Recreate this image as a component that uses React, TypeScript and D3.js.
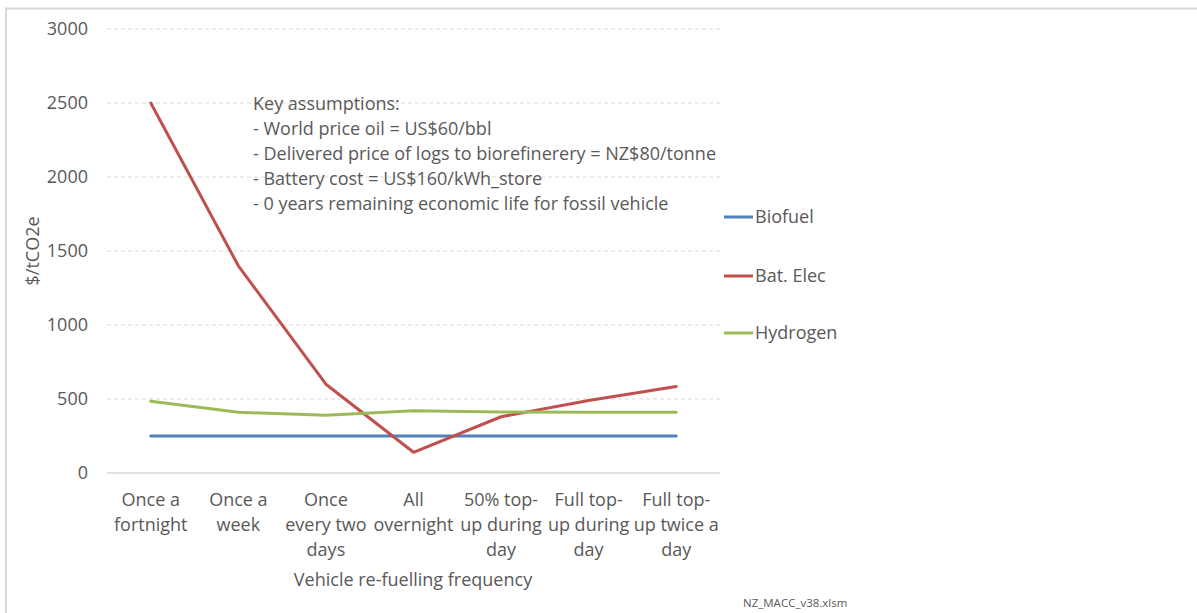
import React from "react";
import * as d3 from "d3";

const categories: string[][] = [
  ["Once a", "fortnight"],
  ["Once a", "week"],
  ["Once", "every two", "days"],
  ["All", "overnight"],
  ["50% top-", "up during", "day"],
  ["Full top-", "up during", "day"],
  ["Full top-", "up twice a", "day"],
];
const biofuel = [250, 250, 250, 250, 250, 250, 250];
const batElec = [2500, 1400, 600, 140, 380, 490, 585];
const hydrogen = [485, 410, 390, 420, 412, 410, 410];
const yTicks = [0, 500, 1000, 1500, 2000, 2500, 3000];
const seriesNames = ["Biofuel", "Bat. Elec", "Hydrogen"];
const seriesColors = ["#4F81BD", "#C0504D", "#9BBB59"];
const notes = [
  "Key assumptions:",
  "- World price oil = US$60/bbl",
  "- Delivered price of logs to biorefinerery = NZ$80/tonne",
  "- Battery cost = US$160/kWh_store",
  "- 0 years remaining economic life for fossil vehicle",
];

const W = 1197;
const H = 613;
const FONT = "'Open Sans', Lato, sans-serif";
const TEXT = "#595959";
const FS = 18;

export default function App() {
  const x = d3
    .scaleBand<number>()
    .domain(d3.range(categories.length))
    .range([107, 720]);
  const y = d3.scaleLinear().domain([0, 3000]).range([473, 29]);
  const cx = (i: number) => (x(i) as number) + x.bandwidth() / 2;
  const line = d3
    .line<number>()
    .x((_, i) => cx(i))
    .y((d) => y(d));
  const series = [biofuel, batElec, hydrogen];

  return (
    <svg
      width={W}
      height={H}
      style={{ position: "absolute", left: 0, top: 0, background: "#fff" }}
      fontFamily={FONT}
    >
      {/* outer border */}
      <line x1={6} x2={6} y1={8} y2={H} stroke="#D9D9D9" strokeWidth={2} />
      <line x1={5} x2={W} y1={8.5} y2={8.5} stroke="#D9D9D9" strokeWidth={2} />

      {/* gridlines */}
      {yTicks.map((t) =>
        t === 0 ? (
          <line key={t} x1={107} x2={720} y1={y(t)} y2={y(t)} stroke="#D9D9D9" strokeWidth={1.3} />
        ) : (
          <line
            key={t}
            x1={107}
            x2={720}
            y1={y(t)}
            y2={y(t)}
            stroke="#D9D9D9"
            strokeWidth={1}
            strokeDasharray="4,3"
          />
        )
      )}
      {yTicks.map((t) => (
        <text
          key={"l" + t}
          x={88}
          y={y(t)}
          dy="0.35em"
          textAnchor="end"
          fontSize={FS}
          fill={TEXT}
        >
          {t}
        </text>
      ))}

      {/* y axis title */}
      <text
        transform={`translate(39,${(y(0) + y(3000)) / 2}) rotate(-90)`}
        textAnchor="middle"
        fontSize={FS}
        fill={TEXT}
      >
        $/tCO2e
      </text>

      {/* category labels */}
      {categories.map((lines, i) => (
        <text key={"c" + i} x={cx(i)} y={506} textAnchor="middle" fontSize={FS} fill={TEXT}>
          {lines.map((l, j) => (
            <tspan key={j} x={cx(i)} dy={j === 0 ? 0 : 25}>
              {l}
            </tspan>
          ))}
        </text>
      ))}
      <text x={413} y={586} textAnchor="middle" fontSize={FS} fill={TEXT}>
        Vehicle re-fuelling frequency
      </text>

      {/* series */}
      {series.map((s, k) => (
        <path
          key={"s" + k}
          d={line(s) as string}
          fill="none"
          stroke={seriesColors[k]}
          strokeWidth={3}
          strokeLinejoin="round"
          strokeLinecap="round"
        />
      ))}

      {/* annotation */}
      <text x={253} y={110} fontSize={FS} fill={TEXT}>
        {notes.map((n, j) => (
          <tspan key={j} x={253} dy={j === 0 ? 0 : 25}>
            {n}
          </tspan>
        ))}
      </text>

      {/* legend */}
      {seriesNames.map((n, k) => {
        const ly = [217, 276, 333][k];
        return (
          <g key={"lg" + k}>
            <line x1={724} x2={753} y1={ly} y2={ly} stroke={seriesColors[k]} strokeWidth={3} />
            <text x={755} y={ly} dy="0.35em" fontSize={FS} fill={TEXT}>
              {n}
            </text>
          </g>
        );
      })}

      <text x={743} y={607} fontSize={11.5} fill={TEXT}>
        NZ_MACC_v38.xlsm
      </text>
    </svg>
  );
}
